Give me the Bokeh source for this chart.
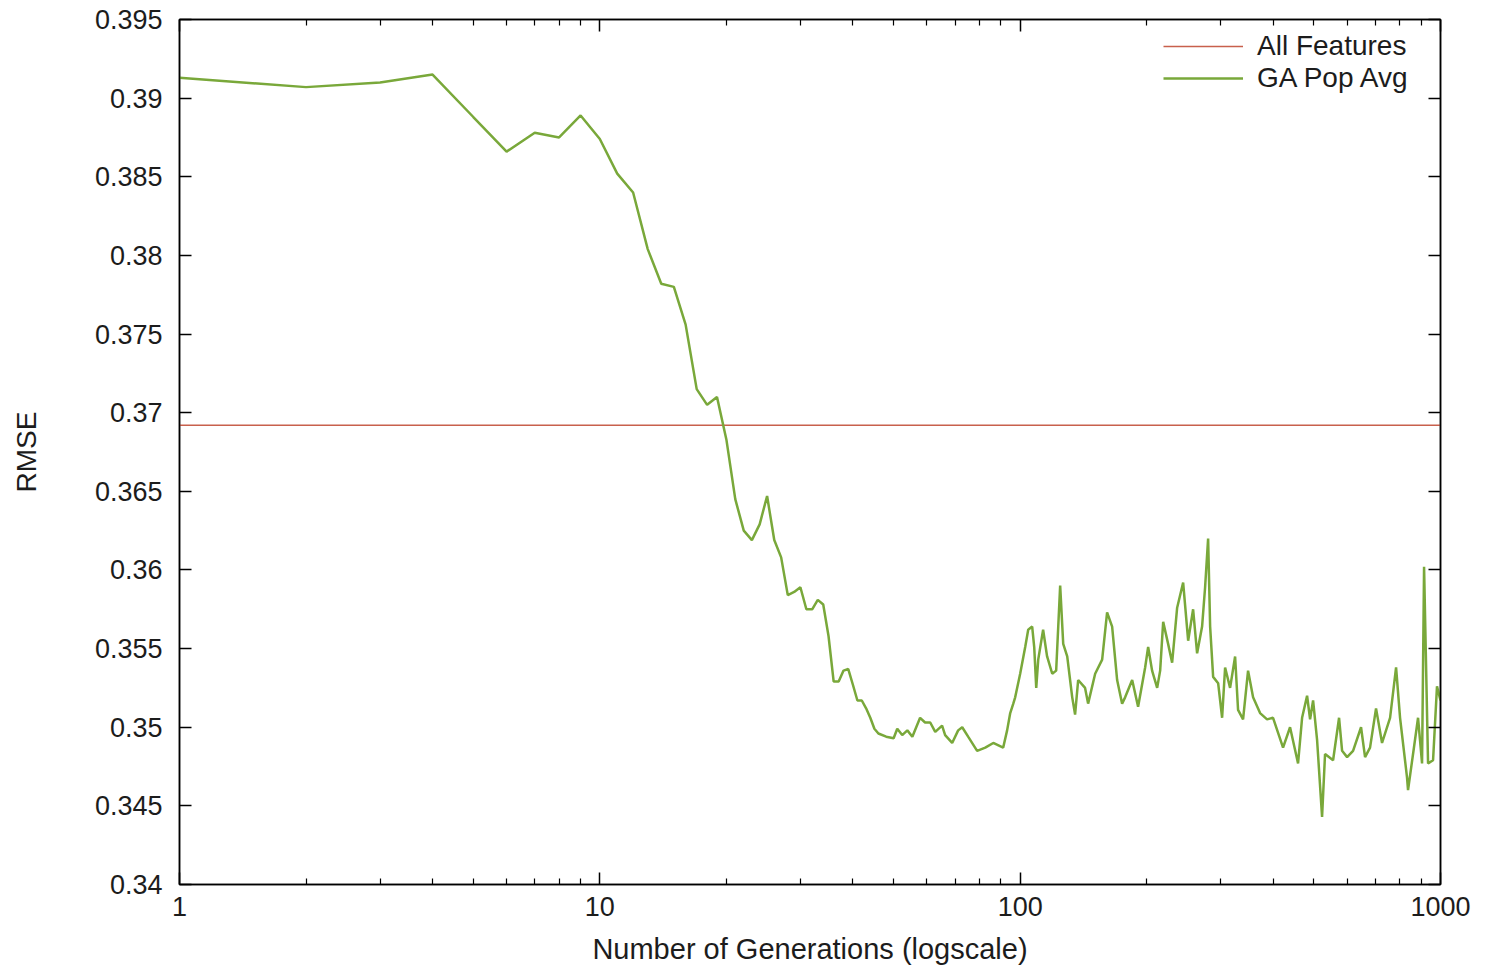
from bokeh.plotting import figure
from bokeh.models import (FixedTicker, LinearAxis, LogAxis, Legend, LegendItem,
                          Range1d, CustomJSTickFormatter)
from bokeh.embed import file_html
from bokeh.resources import INLINE

# ---------------- data ----------------
all_features_gen = [1, 1000]
all_features_rmse = [0.3692, 0.3692]

ga_gen = [1, 2, 3, 4, 5, 6, 7, 8, 9, 10, 11, 12, 13, 14, 15, 16, 17, 18, 19, 20,
          21, 22, 23, 24, 25, 26, 27, 28, 29, 30, 31, 32, 33, 34, 35, 36, 37, 38, 39, 40,
          41, 42, 43, 44, 45, 46, 48, 50,
          51.0, 52.4, 53.9, 55.4, 57.8, 59.4, 61.1, 62.8, 65.2, 66.3, 68.9, 71.2, 72.8,
          75.2, 79.0, 82.6, 86.3, 91.1, 93.1, 94.7, 96.3, 97.3, 100, 102.8, 104.5,
          106.8, 108.0, 109.2, 110.4, 113.4, 115.9, 119.2, 121.8, 124.5, 126.6, 129.4,
          133.0, 135.1, 137.4, 142.7, 145.1, 150.8, 156.7, 161.0, 165.5, 170.1, 174.8,
          177.7, 184.7, 190.8, 198.3, 201.6, 206.0, 211.8, 215.3, 218.9, 224.9, 229.9,
          236.3, 244.2, 251.0, 257.9, 263.6, 270.9, 275.4, 280.0, 283.1, 287.8, 295.8,
          302.3, 307.3, 315.8, 324.6, 329.9, 339.1, 348.5, 358.2, 372.2, 386.7, 399.6,
          422.1, 438.6, 458.3, 468.5, 481.5, 489.5, 497.6, 508.6, 522.7, 531.3, 555.2,
          573.7, 583.3, 599.5, 619.4, 647.1, 661.5, 679.8, 702.5, 726.0, 758.6, 784.0,
          801.3, 832.5, 837.1, 860.4, 884.3, 903.9, 913.9, 934.1, 960.1, 981.0, 1000]

ga_rmse = [0.3913, 0.3907, 0.3910, 0.3915, 0.3888, 0.3866, 0.3878, 0.3875, 0.3889, 0.3874,
           0.3852, 0.3840, 0.3804, 0.3782, 0.3780, 0.3756, 0.3715, 0.3705, 0.3710, 0.3683,
           0.3645, 0.3625, 0.3619, 0.3629, 0.3647, 0.3619, 0.3608, 0.3584, 0.3586, 0.3589,
           0.3575, 0.3575, 0.3581, 0.3578, 0.3558, 0.3529, 0.3529, 0.3536, 0.3537, 0.3527,
           0.3517, 0.3517, 0.3512, 0.3506, 0.3499, 0.3496, 0.3494, 0.3493,
           0.3499, 0.3495, 0.3498, 0.3494, 0.3506, 0.3503, 0.3503, 0.3497, 0.3501, 0.3495,
           0.3490, 0.3498, 0.3500, 0.3494, 0.3485, 0.3487, 0.3490, 0.3487, 0.3498, 0.3509,
           0.3515, 0.3519, 0.3534, 0.3551, 0.3562, 0.3564, 0.3551, 0.3525, 0.3543, 0.3562,
           0.3545, 0.3534, 0.3536, 0.3590, 0.3553, 0.3545, 0.3519, 0.3508, 0.3530, 0.3525,
           0.3515, 0.3534, 0.3543, 0.3573, 0.3564, 0.3530, 0.3515, 0.3519, 0.3530, 0.3513,
           0.3538, 0.3551, 0.3536, 0.3525, 0.3536, 0.3567, 0.3553, 0.3541, 0.3576, 0.3592,
           0.3555, 0.3575, 0.3547, 0.3564, 0.3589, 0.3620, 0.3564, 0.3532, 0.3528, 0.3506,
           0.3538, 0.3525, 0.3545, 0.3511, 0.3505, 0.3536, 0.3519, 0.3509, 0.3505, 0.3506,
           0.3487, 0.3500, 0.3477, 0.3506, 0.3520, 0.3505, 0.3517, 0.3492, 0.3443, 0.3483,
           0.3479, 0.3506, 0.3485, 0.3481, 0.3485, 0.3500, 0.3481, 0.3487, 0.3512, 0.3490,
           0.3506, 0.3538, 0.3506, 0.3468, 0.3460, 0.3483, 0.3506, 0.3477, 0.3602, 0.3477,
           0.3479, 0.3526, 0.3517]

x_ticks = [1, 10, 100, 1000]
x_tick_labels = ["1", "10", "100", "1000"]
x_minor_ticks = [2, 3, 4, 5, 6, 7, 8, 9, 20, 30, 40, 50, 60, 70, 80, 90,
                 200, 300, 400, 500, 600, 700, 800, 900]
y_ticks = [0.34, 0.345, 0.35, 0.355, 0.36, 0.365, 0.37, 0.375, 0.38, 0.385, 0.39, 0.395]
y_tick_labels = ["0.34", "0.345", "0.35", "0.355", "0.36", "0.365", "0.37", "0.375",
                 "0.38", "0.385", "0.39", "0.395"]

FONT = "Liberation Sans"
TXT = "#1c1c1c"

p = figure(width=1483, height=968, x_axis_type="log",
           x_range=Range1d(1, 1000), y_range=Range1d(0.34, 0.395),
           output_backend="svg", toolbar_location=None,
           min_border_left=179, min_border_right=43, min_border_top=19,
           min_border_bottom=84)
p.grid.visible = False
p.outline_line_color = "black"
p.outline_line_width = 1.5

r1 = p.line(all_features_gen, all_features_rmse, line_color="#c8604c", line_width=1.3)
r2 = p.line(ga_gen, ga_rmse, line_color="#79a83a", line_width=2.5)

bottom = p.below[0]
left = p.left[0]
top = LogAxis()
right = LinearAxis()
p.add_layout(top, "above")
p.add_layout(right, "right")

xt = FixedTicker(ticks=x_ticks, minor_ticks=x_minor_ticks)
yt = FixedTicker(ticks=y_ticks)
bottom.ticker = xt
top.ticker = xt
left.ticker = yt
right.ticker = yt

bottom.major_label_overrides = dict(zip(x_ticks, x_tick_labels))
left.major_label_overrides = dict(zip(y_ticks, y_tick_labels))

blank = CustomJSTickFormatter(code="return ''")
for ax in (top, right):
    ax.formatter = blank
    ax.major_label_text_font_size = "0px"
    ax.major_label_standoff = 0

for ax in (bottom, left, top, right):
    ax.axis_line_color = "black"
    ax.axis_line_width = 1.5
    ax.major_tick_in = 12
    ax.major_tick_out = 0
    ax.minor_tick_in = 6
    ax.minor_tick_out = 0
    ax.major_tick_line_width = 1.5
    ax.minor_tick_line_width = 1.2
    ax.major_tick_line_color = "black"
    ax.minor_tick_line_color = "black"
    ax.major_label_text_font = FONT
    ax.major_label_text_color = TXT
    ax.axis_label_text_font = FONT
    ax.axis_label_text_color = TXT
    ax.axis_label_text_font_style = "normal"

bottom.major_label_text_font_size = "27px"
left.major_label_text_font_size = "27px"
bottom.major_label_standoff = 12
left.major_label_standoff = 17
bottom.axis_label = "Number of Generations (logscale)"
left.axis_label = "RMSE"
bottom.axis_label_text_font_size = "29px"
left.axis_label_text_font_size = "28px"
bottom.axis_label_standoff = 14
left.axis_label_standoff = 50

legend = Legend(items=[LegendItem(label="All Features", renderers=[r1]),
                       LegendItem(label="GA Pop Avg", renderers=[r2])],
                location=(980, 786), padding=4, spacing=-4,
                label_text_font=FONT, label_text_font_size="28px",
                label_text_color=TXT, label_height=28, glyph_height=28,
                glyph_width=80, label_standoff=14,
                border_line_alpha=0, background_fill_alpha=0)
p.add_layout(legend)

open("out.html", "w").write(file_html(p, INLINE))
